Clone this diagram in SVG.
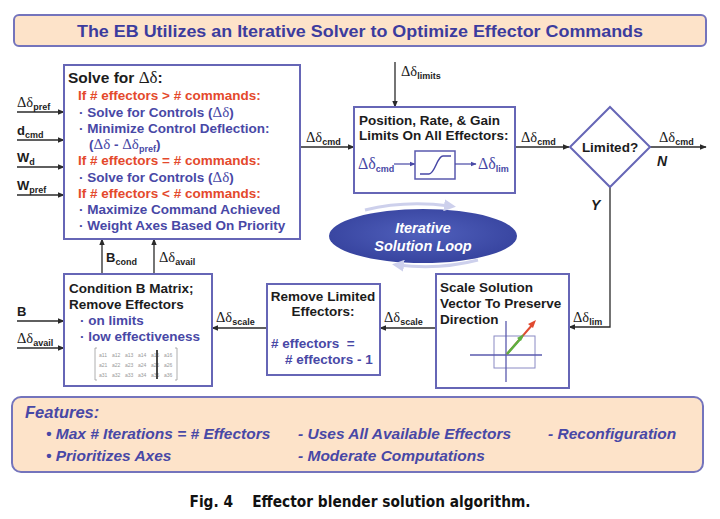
<svg xmlns="http://www.w3.org/2000/svg" width="720" height="519" viewBox="0 0 720 519">
<style>
.box{fill:#fff;stroke:#6666b6;stroke-width:2}
.peach{fill:#fde3c9;stroke:#7474bc;stroke-width:2}
.conn{stroke:#2a2a2a;stroke-width:1.3;fill:none}
.arr{marker-end:url(#ah)}
.t{font-family:"Liberation Sans",Arial,sans-serif;font-weight:bold}
.k{fill:#1c1c1c}
.b{fill:#4848a6}
.r{fill:#e4492c}
.g{font-family:"Liberation Serif","Times New Roman",serif;font-weight:normal}
.s{font-family:"Liberation Sans",Arial,sans-serif;font-weight:bold;font-size:9px}
.lab{font-family:"Liberation Sans",Arial,sans-serif;font-weight:bold;font-size:13px;fill:#1c1c1c}
.lab .g{font-size:14.5px}
.it{font-style:italic}
.m{font-family:"Liberation Sans",Arial,sans-serif;font-size:5px;fill:#999}
</style>
<defs>
<marker id="ah" viewBox="0 0 10 10" refX="9" refY="5" markerWidth="7" markerHeight="7" markerUnits="userSpaceOnUse" orient="auto">
<path d="M0,1 L10,5 L0,9 z" fill="#2a2a2a"/>
</marker>
<marker id="ahb" viewBox="0 0 10 10" refX="9" refY="5" markerWidth="6" markerHeight="6" markerUnits="userSpaceOnUse" orient="auto">
<path d="M0,1 L10,5 L0,9 z" fill="#4848a6"/>
</marker>
<marker id="ahl" viewBox="0 0 10 10" refX="5" refY="5" markerWidth="12" markerHeight="12" markerUnits="userSpaceOnUse" orient="auto">
<path d="M0,0 L10,5 L0,10 z" fill="#cdd0ec"/>
</marker>
<radialGradient id="eg" cx="0.5" cy="0.45" r="0.6">
<stop offset="0" stop-color="#5060bc"/>
<stop offset="1" stop-color="#35419c"/>
</radialGradient>
</defs>

<!-- title -->
<g id="title">
<rect class="peach" x="14" y="15" width="692" height="31" rx="5"/>
<text class="t" x="360" y="37" text-anchor="middle" font-size="16" fill="#3c3c9e" textLength="566" lengthAdjust="spacingAndGlyphs">The EB Utilizes an Iterative Solver to Optimize Effector Commands</text>
</g>

<!-- connectors -->
<g id="connectors">
<line class="conn arr" x1="17" y1="112" x2="64" y2="112"/>
<line class="conn arr" x1="17" y1="140" x2="64" y2="140"/>
<line class="conn arr" x1="17" y1="167" x2="64" y2="167"/>
<line class="conn arr" x1="17" y1="195" x2="64" y2="195"/>
<line class="conn arr" x1="300" y1="147" x2="354" y2="147"/>
<line class="conn arr" x1="395" y1="62" x2="395" y2="107"/>
<line class="conn arr" x1="515" y1="147" x2="569" y2="147"/>
<line class="conn arr" x1="650" y1="147" x2="706" y2="147"/>
<polyline class="conn arr" points="610,187 610,327 569,327"/>
<line class="conn arr" x1="436" y1="328" x2="380" y2="328"/>
<line class="conn arr" x1="267" y1="328" x2="212" y2="328"/>
<line class="conn arr" x1="17" y1="321" x2="64" y2="321"/>
<line class="conn arr" x1="17" y1="348" x2="64" y2="348"/>
<line class="conn arr" x1="102" y1="274" x2="102" y2="239"/>
<line class="conn arr" x1="154" y1="274" x2="154" y2="239"/>
<!-- labels -->
<text class="lab" x="17" y="107"><tspan class="g">Δδ</tspan><tspan class="s" dy="3">pref</tspan></text>
<text class="lab" x="17" y="135">d<tspan class="s" dy="3">cmd</tspan></text>
<text class="lab" x="17" y="162">W<tspan class="s" dy="3">d</tspan></text>
<text class="lab" x="17" y="190">W<tspan class="s" dy="3">pref</tspan></text>
<text class="lab" x="306" y="142"><tspan class="g">Δδ</tspan><tspan class="s" dy="3">cmd</tspan></text>
<text class="lab" x="401" y="76"><tspan class="g">Δδ</tspan><tspan class="s" dy="3">limits</tspan></text>
<text class="lab" x="521" y="142"><tspan class="g">Δδ</tspan><tspan class="s" dy="3">cmd</tspan></text>
<text class="lab" x="659" y="142"><tspan class="g">Δδ</tspan><tspan class="s" dy="3">cmd</tspan></text>
<text class="t it k" x="657" y="166" font-size="14">N</text>
<text class="t it k" x="591" y="210" font-size="14">Y</text>
<text class="lab" x="573" y="322"><tspan class="g" font-size="16">Δδ</tspan><tspan class="s" dy="3" font-size="10">lim</tspan></text>
<text class="lab" x="384" y="322"><tspan class="g" font-size="16">Δδ</tspan><tspan class="s" dy="3" font-size="10">scale</tspan></text>
<text class="lab" x="216" y="322"><tspan class="g" font-size="16">Δδ</tspan><tspan class="s" dy="3" font-size="10">scale</tspan></text>
<text class="lab" x="17" y="316">B</text>
<text class="lab" x="17" y="343"><tspan class="g">Δδ</tspan><tspan class="s" dy="3">avail</tspan></text>
<text class="lab" x="106" y="262">B<tspan class="s" dy="3">cond</tspan></text>
<text class="lab" x="159" y="262"><tspan class="g">Δδ</tspan><tspan class="s" dy="3">avail</tspan></text>
</g>

<!-- solve box -->
<g id="solve">
<rect class="box" x="64" y="65" width="236" height="174"/>
<text class="t k" x="68" y="83" font-size="15.5">Solve for <tspan class="g" font-size="17">Δδ</tspan>:</text>
<text class="t r" x="78" y="100" font-size="13.5">If # effectors &gt; # commands:</text>
<text class="t b" x="79" y="117" font-size="13.5">· Solve for Controls (<tspan class="g" font-size="15">Δδ</tspan>)</text>
<text class="t b" x="79" y="133" font-size="13.5">· Minimize Control Deflection:</text>
<text class="t b" x="89" y="149" font-size="13.5">(<tspan class="g" font-size="15">Δδ</tspan> - <tspan class="g" font-size="15">Δδ</tspan><tspan font-size="9" dy="3">pref</tspan><tspan dy="-3">)</tspan></text>
<text class="t r" x="78" y="165" font-size="13.5">If # effectors = # commands:</text>
<text class="t b" x="79" y="182" font-size="13.5">· Solve for Controls (<tspan class="g" font-size="15">Δδ</tspan>)</text>
<text class="t r" x="78" y="198" font-size="13.5">If # effectors &lt; # commands:</text>
<text class="t b" x="79" y="214" font-size="13.5">· Maximize Command Achieved</text>
<text class="t b" x="79" y="230" font-size="13.5">· Weight Axes Based On Priority</text>
</g>

<!-- limits box -->
<g id="limits">
<rect class="box" x="354" y="107" width="161" height="86"/>
<text class="t k" x="359" y="125" font-size="13.5">Position, Rate, &amp; Gain</text>
<text class="t k" x="359" y="140" font-size="13.5">Limits On All Effectors:</text>
<text class="b" x="358" y="169" font-size="16"><tspan class="g">Δδ</tspan><tspan class="s" font-size="10" dy="3">cmd</tspan></text>
<line x1="394" y1="164" x2="415" y2="164" stroke="#4848a6" stroke-width="1.2" marker-end="url(#ahb)"/>
<rect x="415" y="151" width="40" height="28" fill="#fff" stroke="#5a5aae" stroke-width="1.5"/>
<path d="M420,174 L429,174 C435,174 437,156 443,156 L451,156" fill="none" stroke="#4848a6" stroke-width="1.5"/>
<line x1="455" y1="164" x2="476" y2="164" stroke="#4848a6" stroke-width="1.2" marker-end="url(#ahb)"/>
<text class="b" x="478" y="169" font-size="16"><tspan class="g">Δδ</tspan><tspan class="s" font-size="10" dy="3">lim</tspan></text>
</g>

<!-- decision -->
<g id="limited">
<polygon points="610,107 650,147 610,187 570,147" fill="#fff" stroke="#6666b6" stroke-width="2"/>
<text class="t k" x="610" y="152" font-size="13.5" text-anchor="middle">Limited?</text>
</g>

<!-- iterative loop -->
<g id="loop">
<ellipse cx="423" cy="236" rx="94" ry="27" fill="url(#eg)"/>
<path d="M365,210 Q405,200 450,206" fill="none" stroke="#cdd0ec" stroke-width="3" marker-end="url(#ahl)"/>
<path d="M478,260 Q440,270 398,265" fill="none" stroke="#cdd0ec" stroke-width="3" marker-end="url(#ahl)"/>
<text class="t it" x="423" y="233" font-size="14.5" fill="#fff" text-anchor="middle">Iterative</text>
<text class="t it" x="423" y="251" font-size="14.5" fill="#fff" text-anchor="middle">Solution Loop</text>
</g>

<!-- scale box -->
<g id="scale">
<rect class="box" x="436" y="274" width="133" height="114"/>
<text class="t k" x="440" y="292" font-size="13.5">Scale Solution</text>
<text class="t k" x="440" y="308" font-size="13.5">Vector To Preserve</text>
<text class="t k" x="440" y="324" font-size="13.5">Direction</text>
<rect x="494" y="336" width="41" height="32" fill="none" stroke="#8a8ac4" stroke-width="1"/>
<line x1="470" y1="355" x2="542" y2="355" stroke="#5a5aae" stroke-width="1.3"/>
<line x1="506" y1="321" x2="506" y2="382" stroke="#5a5aae" stroke-width="1.3"/>
<line x1="507" y1="354" x2="533" y2="324" stroke="#e04a30" stroke-width="2"/>
<path d="M536,320 L528,324 L533,328 z" fill="#e04a30"/>
<line x1="507" y1="354" x2="522" y2="337" stroke="#5cb040" stroke-width="2.5"/>
<path d="M524,334 L517,338 L521,341 z" fill="#5cb040"/>
</g>

<!-- remove limited -->
<g id="remove">
<rect class="box" x="267" y="284" width="113" height="91"/>
<text class="t k" x="323" y="301" font-size="13.5" text-anchor="middle">Remove Limited</text>
<text class="t k" x="323" y="316" font-size="13.5" text-anchor="middle">Effectors:</text>
<text class="t b" x="271" y="348" font-size="13.5" xml:space="preserve"># effectors  =</text>
<text class="t b" x="285" y="364" font-size="13.5"># effectors - 1</text>
</g>

<!-- condition -->
<g id="condition">
<rect class="box" x="64" y="274" width="148" height="112"/>
<text class="t k" x="69" y="293" font-size="13.5">Condition B Matrix;</text>
<text class="t k" x="69" y="309" font-size="13.5">Remove Effectors</text>
<text class="t b" x="80" y="325" font-size="13.5">· on limits</text>
<text class="t b" x="80" y="341" font-size="13.5">· low effectiveness</text>
<path d="M97,348 L95,348 L95,380 L97,380 M175,348 L177,348 L177,380 L175,380" fill="none" stroke="#999" stroke-width="0.8"/>
<g class="m">
<text x="99" y="357">a11</text><text x="112" y="357">a12</text><text x="125" y="357">a13</text><text x="138" y="357">a14</text><text x="151" y="357">a15</text><text x="164" y="357">a16</text>
<text x="99" y="367">a21</text><text x="112" y="367">a22</text><text x="125" y="367">a23</text><text x="138" y="367">a24</text><text x="151" y="367">a25</text><text x="164" y="367">a26</text>
<text x="99" y="377">a31</text><text x="112" y="377">a32</text><text x="125" y="377">a33</text><text x="138" y="377">a34</text><text x="151" y="377">a35</text><text x="164" y="377">a36</text>
</g>
<line x1="157" y1="350" x2="157" y2="379" stroke="#333" stroke-width="1.8"/>
</g>

<!-- features -->
<g id="features">
<rect class="peach" x="12" y="397" width="691" height="75" rx="9"/>
<text class="t it b" x="25" y="418" font-size="16.5">Features:</text>
<text class="t it b" x="46" y="439" font-size="15.5">• Max # Iterations = # Effectors</text>
<text class="t it b" x="298" y="439" font-size="15.5">- Uses All Available Effectors</text>
<text class="t it b" x="548" y="439" font-size="15.5">- Reconfiguration</text>
<text class="t it b" x="46" y="461" font-size="15.5">• Prioritizes Axes</text>
<text class="t it b" x="298" y="461" font-size="15.5">- Moderate Computations</text>
</g>

<!-- caption -->
<text x="360" y="507" text-anchor="middle" font-family="'DejaVu Sans Condensed','DejaVu Sans',sans-serif" font-weight="bold" font-size="15" fill="#111" textLength="341" lengthAdjust="spacingAndGlyphs" xml:space="preserve">Fig. 4    Effector blender solution algorithm.</text>
</svg>
